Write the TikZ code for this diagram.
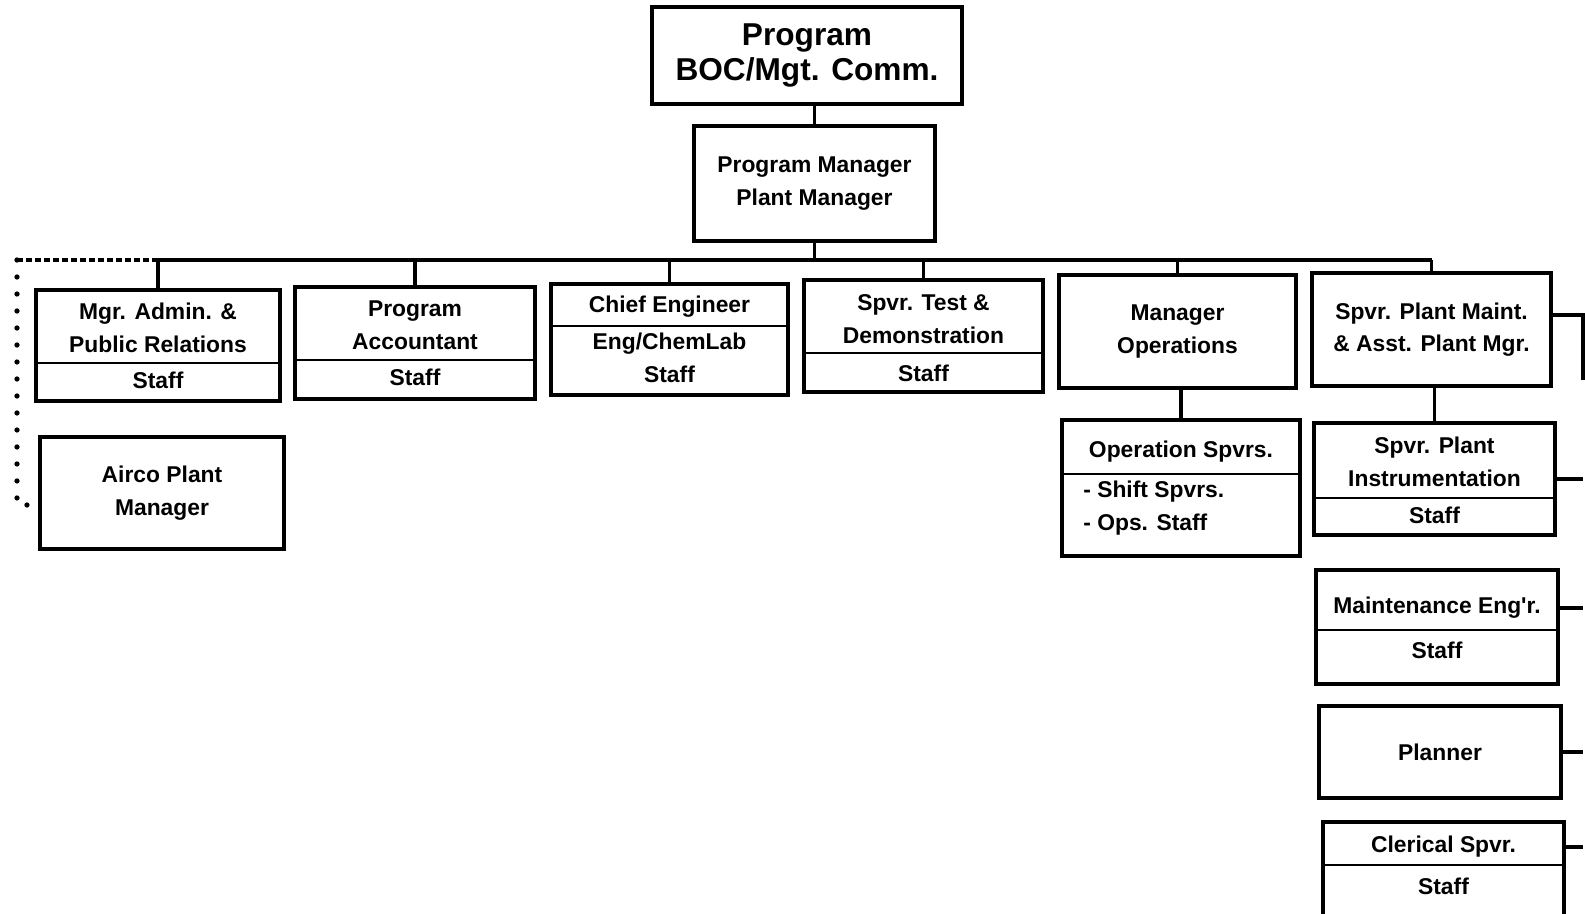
\documentclass[tikz,border=0pt]{standalone}
\usepackage{fontspec}
\setmainfont{Liberation Sans}
\tikzstyle{box} = [rectangle,draw=black,line width=2pt,inner sep=0pt,align=center,font=\bfseries\fontsize{13}{18.5}\selectfont]
\tikzstyle{txt} = [inner sep=0pt,align=center,font=\bfseries\fontsize{13}{18.5}\selectfont]
\tikzstyle{bar} = [line width=1.5pt]
\tikzstyle{link} = [line width=1.8pt]

\begin{document}
\begin{tikzpicture}[x=0.02cm,y=-0.02cm]
  \useasboundingbox (0,0) rectangle (1585,913);
  \clip (0,0) rectangle (1585,913);

  % top of the chart
  \node [box,minimum width=6.2cm,minimum height=1.94cm,font=\bfseries\fontsize{18}{19.5}\selectfont] (boc) at (807,55.5) {Program\\BOC/Mgt. Comm.};
  \node [box,minimum width=4.82cm,minimum height=2.3cm] (pm) at (814.5,183.5) {Program Manager\\Plant Manager};

  % first row
  \node [box,minimum width=4.88cm,minimum height=2.22cm] (admin) at (158,345.5) {};
  \node [txt] (admin-t) at (158,328) {Mgr. Admin. \&\\Public Relations};
  \node [txt] (admin-s) at (158,380) {Staff};
  \draw [bar] (admin.west |- 0,363) -- (admin.east |- 0,363);

  \node [box,minimum width=4.8cm,minimum height=2.24cm] (acct) at (415,343) {};
  \node [txt] (acct-t) at (415,325) {Program\\Accountant};
  \node [txt] (acct-s) at (415,377) {Staff};
  \draw [bar] (acct.west |- 0,360) -- (acct.east |- 0,360);

  \node [box,minimum width=4.74cm,minimum height=2.22cm] (chief) at (669.5,339.5) {};
  \node [txt] (chief-t) at (669.5,307) {Chief Engineer};
  \node [txt] (chief-s) at (669.5,358) {Eng/ChemLab\\Staff};
  \draw [bar] (chief.west |- 0,326) -- (chief.east |- 0,326);

  \node [box,minimum width=4.78cm,minimum height=2.24cm] (test) at (923.5,336) {};
  \node [txt] (test-t) at (923.5,319) {Spvr. Test \&\\Demonstration};
  \node [txt] (test-s) at (923.5,373) {Staff};
  \draw [bar] (test.west |- 0,353) -- (test.east |- 0,353);

  \node [box,minimum width=4.74cm,minimum height=2.26cm] (mgrops) at (1177.5,331.5) {Manager\\Operations};
  \node [box,minimum width=4.78cm,minimum height=2.26cm] (maint) at (1431.5,329.5) {Spvr. Plant Maint.\\\& Asst. Plant Mgr.};

  % second row and below
  \node [box,minimum width=4.88cm,minimum height=2.24cm] (airco) at (162,493) {Airco Plant\\Manager};

  \node [box,minimum width=4.76cm,minimum height=2.72cm] (opspv) at (1181,488) {};
  \node [txt] (opspv-t) at (1181,452) {Operation Spvrs.};
  \node [txt,align=left,anchor=west] (opspv-s) at (1083,508) {- Shift Spvrs.\\- Ops. Staff};
  \draw [bar] (opspv.west |- 0,474) -- (opspv.east |- 0,474);

  \node [box,minimum width=4.82cm,minimum height=2.24cm] (instr) at (1434.5,479) {};
  \node [txt] (instr-t) at (1434.5,462) {Spvr. Plant\\Instrumentation};
  \node [txt] (instr-s) at (1434.5,515) {Staff};
  \draw [bar] (instr.west |- 0,498) -- (instr.east |- 0,498);

  \node [box,minimum width=4.84cm,minimum height=2.28cm] (mainteng) at (1437,627) {};
  \node [txt] (mainteng-t) at (1437,608) {Maintenance Eng\textquotesingle r.};
  \node [txt] (mainteng-s) at (1437,650) {Staff};
  \draw [bar] (mainteng.west |- 0,630) -- (mainteng.east |- 0,630);

  \node [box,minimum width=4.84cm,minimum height=1.84cm] (planner) at (1440,752) {Planner};

  \node [box,minimum width=4.82cm,minimum height=2.06cm] (clerical) at (1443.5,873.5) {};
  \node [txt] (clerical-t) at (1443.5,847) {Clerical Spvr.};
  \node [txt] (clerical-s) at (1443.5,886) {Staff};
  \draw [bar] (clerical.west |- 0,865) -- (clerical.east |- 0,865);

  % lines
  \coordinate (bus) at (815,260);
  \coordinate (dl) at (17,262);
  \coordinate (edge) at (1583,315);
  \coordinate (edge-end) at (1583,380);

  \draw [link] (pm.north) -- (pm.north |- boc.south);
  \draw [link] (pm.south) -- (pm.south |- bus);
  \draw [link] (admin.north |- bus) -- (maint.north |- bus);
  \foreach \n in {admin,acct,chief,test,mgrops,maint}
    \draw [link] (\n.north) -- (\n.north |- bus);
  \draw [link] (mgrops.south -| opspv.north) -- (opspv.north);
  \draw [link] (maint.south -| instr.north) -- (instr.north);

  \draw [line width=1.8pt,dash pattern=on 0.12cm off 0.06cm] (admin.north |- bus) -- (dl |- bus);
  \draw [line width=3pt,line cap=round,dash pattern=on 0pt off 0.34cm] (dl |- bus) -- ([yshift=-0.24cm]dl |- airco.west) -- ([yshift=-0.24cm]airco.west);

  \draw [link] (maint.east |- edge) -- (edge) -- (edge-end);
  \draw [link] (instr.east) -- (instr.east -| edge);
  \draw [link] (mainteng.east |- mainteng-t) -- (edge |- mainteng-t);
  \draw [link] (planner.east) -- (planner.east -| edge);
  \draw [link] (clerical.east |- clerical-t) -- (edge |- clerical-t);
\end{tikzpicture}
\end{document}
